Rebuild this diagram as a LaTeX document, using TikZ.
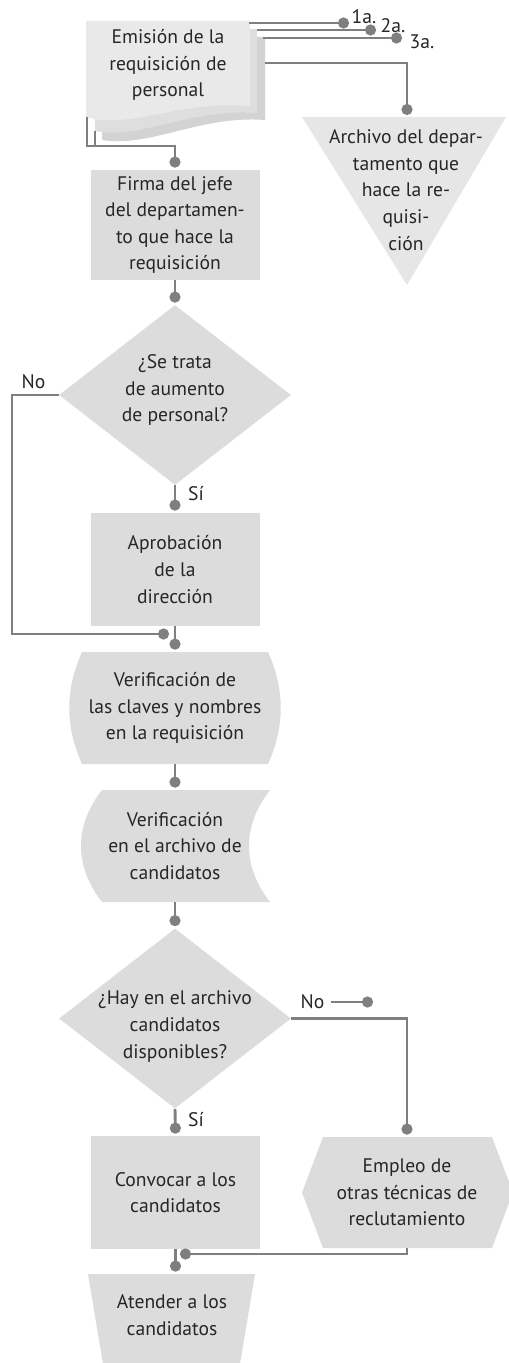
\documentclass[tikz,border=0pt]{standalone}
\usepackage{fontspec}
\setmainfont{PT Sans}
\usetikzlibrary{shapes.geometric,arrows.meta}

\definecolor{linegray}{HTML}{7F7F7F}
\definecolor{boxgray}{HTML}{DCDCDC}
\definecolor{sheetfront}{HTML}{E9E9E9}
\definecolor{sheetmid}{HTML}{DEDEDE}
\definecolor{sheetback}{HTML}{D3D3D3}
\definecolor{filegray}{HTML}{E6E6E6}

\begin{document}
\begin{tikzpicture}[x=0.5pt, y=-0.5pt,
  every node/.style={font=\fontsize{9.8}{13.3}\selectfont, text=black!85, align=center, inner sep=0pt},
  procbox/.style={rectangle, fill=boxgray, minimum width=84.5pt, minimum height=56.5pt},
  decbox/.style={diamond, fill=boxgray, aspect=1.3, minimum width=116pt, minimum height=90pt},
  textonly/.style={rectangle, minimum height=#1},
  link/.style={draw=linegray, line width=1.45pt},
  conn/.style={link, -{Circle[length=5.5pt]}, shorten >=1pt}]
  \useasboundingbox (0,0) rectangle (508,1363);

  % shapes drawn directly
  \fill[sheetback] (102,37) -- (265,37) -- (265,120) .. controls (200,115) and (150,148) .. (102,140) -- cycle;
  \fill[sheetmid] (95,29) -- (257,29) -- (257,113) .. controls (190,108) and (140,140) .. (95,131) -- cycle;
  \fill[sheetfront] (86,21) -- (250,21) -- (250,106) .. controls (180,100) and (130,130) .. (86,117) -- cycle;
  \fill[filegray] (302,117) -- (506,117) -- (407,285) -- cycle;
  \fill[boxgray] (82,652) -- (268,652) .. controls (285,690) and (285,726) .. (268,764)
    -- (82,764) .. controls (65,726) and (65,690) .. (82,652) -- cycle;
  \fill[boxgray] (102,790) -- (270,790) .. controls (242,826) and (242,866) .. (270,902)
    -- (102,902) .. controls (74,866) and (74,826) .. (102,790) -- cycle;
  \fill[boxgray] (302,1192.5) -- (323,1137) -- (492,1137) -- (513,1192.5) -- (492,1248) -- (323,1248) -- cycle;
  \fill[boxgray] (88,1274) -- (255,1274) -- (239,1370) -- (104,1370) -- cycle;

  % nodes
  \node (emision) at (168,65) {Emisión de la\\requisición de\\personal};
  \node (archivo) at (406,190) {Archivo del depar-\\tamento que\\hace la re-\\quisi-\\ción};
  \node[procbox, minimum height=55pt] (firma) at (175,225) {Firma del jefe\\del departamen-\\to que hace la\\requisición};
  \node[decbox, label={[yshift=2.5pt]center:{¿Se trata\\de aumento\\de personal?}}] (dec1) at (175,395) {};
  \node[procbox] (aprob) at (175,569.5) {Aprobación\\de la\\dirección};
  \node[textonly=56pt] (verifa) at (175,708) {Verificación de\\las claves y nombres\\en la requisición};
  \node[textonly=56pt] (verifb) at (175,846) {Verificación\\en el archivo de\\candidatos};
  \node[decbox, label={[yshift=-4pt]center:{¿Hay en el archivo\\candidatos\\disponibles?}}] (dec2) at (175,1018.5) {};
  \node[procbox] (convocar) at (175.5,1192.5) {Convocar a los\\candidatos};
  \node[textonly=55.5pt] (empleo) at (407,1192.5) {Empleo de\\otras técnicas de\\reclutamiento};
  \node[textonly=41pt] (atender) at (172,1315) {Atender a los\\candidatos};

  \node (l1) at (364,17) {1a.};
  \node (l2) at (393,25.5) {2a.};
  \node (l3) at (422,42) {3a.};
  \node (no1) at (33.5,381.5) {No};
  \node (si1) at (196,494) {Sí};
  \node[inner sep=3pt] (no2) at (312.5,1002) {No};
  \node (si2) at (196,1120) {Sí};

  % connector ends
  \coordinate (s1) at (87,117);
  \coordinate (s2) at (95,131);
  \coordinate (sjoin) at (175,146);
  \coordinate (t1) at (249,23);
  \coordinate (t2) at (257,30);
  \coordinate (t3) at (263,38);
  \coordinate (t4) at (265,63);
  \coordinate (d1) at (351,23);
  \coordinate (d2) at (378,30);
  \coordinate (d3) at (404,38);
  \coordinate (archtop) at (407,117);
  \coordinate (nox) at (12,0);
  \coordinate (noend) at (171,634);
  \coordinate (no2end) at (375,1003);
  \coordinate (empend) at (178,1254);

  % connectors
  \draw[conn] (s1) |- (sjoin) -- (firma.north);
  \draw[link] (s2) -- (s2 |- sjoin);
  \draw[conn] (t1) -- (d1);
  \draw[conn] (t2) -- (d2);
  \draw[conn] (t3) -- (d3);
  \draw[conn] (t4) -| (archtop);
  \draw[conn] (firma.south) -- (dec1.north);
  \draw[conn] (dec1.south) -- (aprob.north);
  \draw[conn] (dec1.west) -- (dec1.west -| nox) |- (noend);
  \draw[conn] (aprob.south) -- (verifa.north);
  \draw[conn] (verifa.south) -- (verifb.north);
  \draw[conn] (verifb.south) -- (dec2.north);
  \draw[conn] (dec2.south) -- (convocar.north);
  \draw[conn] (dec2.east) -| (empleo.north);
  \draw[conn] (no2.east) -- (no2.east -| no2end);
  \draw[conn] (empleo.south) |- (empend);
  \draw[conn] (convocar.south) -- (convocar.south |- atender.north);
\end{tikzpicture}
\end{document}
